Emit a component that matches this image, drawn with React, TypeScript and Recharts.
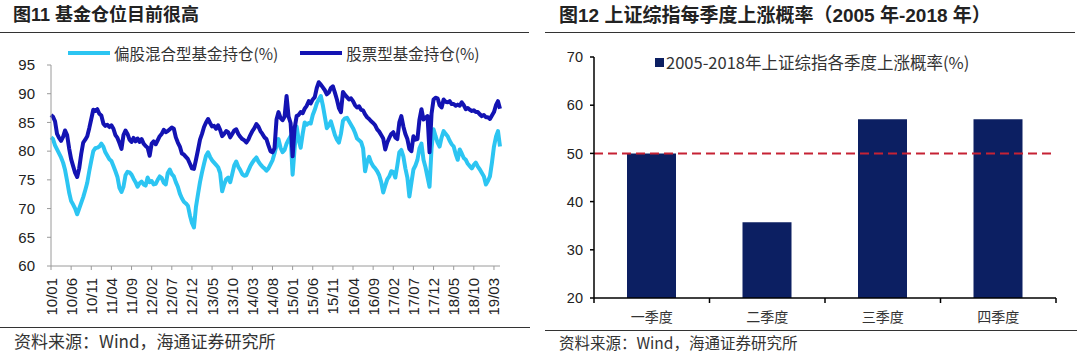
import { LineChart, Line, XAxis, YAxis, Legend, BarChart, Bar, ReferenceLine } from "recharts";

// left chart: fund positions, half-month samples from 2010/01 to 2019/04
const xTickLabels = [
  "10/01", "10/06", "10/11", "11/04", "11/09", "12/02", "12/07", "12/12",
  "13/05", "13/10", "14/03", "14/08", "15/01", "15/06", "15/11", "16/04",
  "16/09", "17/02", "17/07", "17/12", "18/05", "18/10", "19/03",
];
const samplesPerTick = 10; // 5 months between labels, 2 samples a month

const mixedFund = [
  82.4, 82.1, 81.0, 80.3, 79.6, 78.9, 78.0, 76.7, 74.8, 72.8,
  71.3, 70.7, 70.0, 69.0, 70.0, 71.0, 72.0, 73.2, 74.5, 76.5,
  78.3, 80.0, 80.5, 80.6, 80.8, 81.3, 80.8, 79.8, 79.2, 78.6,
  78.3, 77.4, 76.5, 75.5, 73.6, 72.9, 73.8, 75.8, 76.4, 76.3,
  75.9, 75.2, 74.6, 73.8, 74.4, 74.7, 74.2, 74.0, 75.4, 74.6,
  74.8, 74.2, 74.3, 75.0, 75.6, 75.3, 74.5, 74.2, 76.2, 76.8,
  76.0, 75.6, 74.6, 73.8, 72.6, 71.8, 71.2, 70.9, 70.5, 68.8,
  67.5, 66.7, 70.3, 72.5, 74.6, 76.3, 77.8, 79.2, 79.8, 79.0,
  78.4, 78.0, 77.6, 77.2, 76.2, 73.0, 74.2, 75.1, 75.4, 74.6,
  76.0, 77.5, 78.2, 77.3, 76.7, 76.0, 75.7, 75.8, 76.6, 77.4,
  78.0, 78.5, 78.9, 78.2, 77.7, 77.3, 77.0, 76.6, 77.0, 77.7,
  78.4, 79.6, 81.0, 82.1, 80.6, 79.8, 80.2, 81.3, 82.0, 82.6,
  75.9, 80.5, 84.3, 82.0, 80.6, 83.0, 85.0, 84.6, 84.9, 84.8,
  86.3, 87.2, 88.3, 89.0, 89.6, 88.0, 86.0, 84.0, 84.5, 85.2,
  84.0, 82.8, 82.0, 81.5, 83.0, 85.3, 85.7, 85.8, 85.2, 84.6,
  84.0, 83.2, 82.2, 81.9, 81.6, 80.5, 76.5, 78.2, 79.0, 78.0,
  77.4, 77.0, 76.5, 75.8, 74.6, 72.8, 74.0, 75.1, 75.6, 76.5,
  76.4, 75.4, 77.5, 79.8, 80.2, 79.1, 77.0, 75.4, 72.1, 74.5,
  76.8, 77.5, 78.5, 80.5, 81.3, 78.5, 77.2, 75.5, 73.8, 80.5,
  83.8, 82.6, 81.5, 80.8, 82.4, 83.5, 83.0, 82.6, 81.8, 81.2,
  80.8, 79.5, 78.5, 80.3, 79.6, 78.8, 78.5, 77.8, 77.4, 77.0,
  77.6, 78.0, 77.3, 76.8, 76.2, 75.6, 74.2, 74.8, 75.6, 78.0,
  80.8, 82.5, 83.5, 80.8,
];

const stockFund = [
  86.3, 86.0, 85.2, 83.0, 82.3, 81.8, 82.5, 83.6, 82.8, 80.5,
  78.6, 77.4, 76.2, 75.5, 77.0, 79.5, 81.5, 82.0, 82.6, 84.0,
  85.6, 87.2, 87.0, 87.3, 86.5, 86.2, 84.8, 84.4, 84.6, 84.2,
  84.5, 83.9, 82.8, 82.3, 81.4, 80.4, 82.8, 83.6, 83.0, 82.0,
  81.6, 82.3, 81.7, 82.2, 81.6, 82.1, 81.3, 80.9, 80.6, 79.2,
  81.3, 81.7, 81.2, 81.9, 82.6, 83.0, 83.7, 83.3, 83.5, 83.8,
  84.1, 83.9, 82.4, 81.5, 80.8, 79.6, 79.4, 79.0, 78.6, 77.8,
  77.0, 76.9, 78.5, 80.2, 82.0, 83.0, 84.2, 85.0, 85.6, 84.9,
  84.3, 84.4, 83.9, 84.5, 83.7, 82.6, 83.0, 83.5, 83.3, 82.4,
  83.0, 83.6, 83.8, 83.0, 82.5, 82.1, 81.9, 81.5, 82.0, 82.8,
  83.5, 84.0, 84.7, 84.3, 83.5, 83.0, 82.4, 82.1, 81.0, 80.0,
  79.8, 80.5, 85.5, 86.8, 85.8, 85.4, 86.0, 89.6, 86.0, 84.9,
  79.1, 84.0, 86.1, 86.3, 86.8, 86.6, 87.4, 87.9, 88.7, 88.3,
  89.0, 89.4, 91.0, 92.0, 91.6, 91.1, 90.6, 89.9, 90.2, 91.0,
  91.3, 90.2, 89.0, 87.5, 86.8, 90.3, 89.8, 89.4, 89.0, 89.2,
  88.7, 88.0, 87.6, 87.8, 87.2, 87.1, 86.4, 85.9, 85.6, 85.2,
  84.9, 84.5, 83.8, 83.4, 82.8, 82.2, 80.3, 81.5, 82.3, 83.0,
  83.3, 82.4, 82.1, 85.0, 86.1, 84.3, 83.0, 82.1, 80.4, 80.0,
  82.6, 82.0, 82.1, 85.5, 87.3, 85.5, 85.8, 86.1, 79.8, 86.5,
  89.0, 89.3, 89.2, 88.0, 87.6, 89.0, 88.6, 88.5, 88.7, 88.2,
  88.2, 87.9, 88.1, 87.9, 88.5, 88.0, 87.3, 87.5, 87.2, 87.0,
  87.1, 86.8, 86.8, 86.4, 86.1, 86.3, 85.9, 85.9, 85.6, 86.2,
  86.8, 88.0, 88.7, 87.4,
];
const leftYTicks = [60, 65, 70, 75, 80, 85, 90, 95];

// right chart: quarterly rise probability
const quarters = ["一季度", "二季度", "三季度", "四季度"];
const riseProb = [50, 35.7, 57.1, 57.1];
const rightYTicks = [20, 30, 40, 50, 60, 70];

const lineData = mixedFund.map((v, i) => ({ i, mixed: v, stock: stockFund[i] }));
const barData = quarters.map((q, k) => ({ q, p: riseProb[k] }));

const SANS = '"Liberation Sans", Arial, "Noto Sans CJK SC", sans-serif';
const CJK = '"Noto Sans CJK SC", "Liberation Sans", sans-serif';

function RotTick(props: any) {
  const { x, y, payload } = props;
  const label = xTickLabels[Math.round(payload.value / samplesPerTick)];
  return (
    <text x={x} y={y} transform={`rotate(-90 ${x} ${y})`} textAnchor="end"
      dominantBaseline="central" fontSize={15} fill="#222" fontFamily={SANS}>
      {label}
    </text>
  );
}

function QuarterTick(props: any) {
  const { x, y, payload, index, width, visibleTicksCount } = props;
  const half = payload.offset ?? width / (2 * visibleTicksCount);
  const last = index === visibleTicksCount - 1;
  return (
    <g>
      <line x1={x - half} x2={x - half} y1={y} y2={y + 5} stroke="#000" strokeWidth={1.5} />
      {last && <line x1={x + half} x2={x + half} y1={y} y2={y + 5} stroke="#000" strokeWidth={1.5} />}
      <text x={x} y={y + 24} textAnchor="middle" fontSize={14} fill="#333" fontFamily={CJK}>
        {payload.value}
      </text>
    </g>
  );
}

function LeftLegend(props: any) {
  const items = props.payload || [];
  return (
    <div style={{ display: "flex", alignItems: "center", fontFamily: CJK, fontSize: 15.5, color: "#333", whiteSpace: "nowrap", lineHeight: "18px" }}>
      {items.map((it: any, k: number) => (
        <div key={k} style={{ display: "flex", alignItems: "center", marginLeft: k ? 22 : 0 }}>
          <span style={{ display: "inline-block", width: 42, height: 4, background: it.color, marginRight: 4 }} />
          <span>{it.value}</span>
        </div>
      ))}
    </div>
  );
}

function RightLegend(props: any) {
  const items = props.payload || [];
  return (
    <div style={{ display: "flex", alignItems: "center", fontFamily: CJK, fontSize: 16.5, color: "#333", whiteSpace: "nowrap", lineHeight: "18px" }}>
      {items.map((it: any, k: number) => (
        <div key={k} style={{ display: "flex", alignItems: "center" }}>
          <span style={{ display: "inline-block", width: 9, height: 9, background: it.color, marginRight: 2 }} />
          <span>{it.value}</span>
        </div>
      ))}
    </div>
  );
}

const abs = (s: any) => ({ position: "absolute" as const, ...s });

export default function App() {
  return (
    <div style={abs({ left: 0, top: 0, width: 1080, height: 354, background: "#fff", overflow: "hidden", fontFamily: SANS })}>
      <div style={abs({ left: 13, top: 5, fontSize: 18, fontWeight: 700, lineHeight: "20px", fontFamily: SANS, color: "#222", whiteSpace: "nowrap" })}>
        图11 基金仓位目前很高
      </div>
      <div style={abs({ left: 0, top: 32, width: 529, height: 1, background: "#333" })} />
      <div style={abs({ left: 0, top: 0 })}>
        <LineChart width={540} height={354} data={lineData} margin={{ top: 65, right: 40, bottom: 28, left: 0 }}>
          <XAxis dataKey="i" type="number" domain={[0, lineData.length - 1]}
            ticks={xTickLabels.map((_, k) => k * samplesPerTick)} interval={0}
            height={60} tickSize={4} tickMargin={8} stroke="#9a9a9a" tick={(p: any) => <RotTick {...p} />} />
          <YAxis domain={[60, 95]} ticks={leftYTicks} interval={0} width={51} tickSize={4} tickMargin={12}
            stroke="#9a9a9a" tick={{ fontSize: 15, fill: "#222", fontFamily: SANS }} />
          <Legend layout="horizontal" verticalAlign="middle" align="center"
            wrapperStyle={{ top: 44, left: 68, width: "auto" }} content={(p: any) => <LeftLegend {...p} />} />
          <Line dataKey="mixed" name="偏股混合型基金持仓(%)" stroke="#2CC5F2" strokeWidth={4}
            strokeLinejoin="round" dot={false} isAnimationActive={false} />
          <Line dataKey="stock" name="股票型基金持仓(%)" stroke="#1313B3" strokeWidth={4}
            strokeLinejoin="round" dot={false} isAnimationActive={false} />
        </LineChart>
      </div>
      <div style={abs({ left: 0, top: 327, width: 530, height: 1, background: "#333" })} />
      <div style={abs({ left: 14, top: 332, fontSize: 17, lineHeight: "18px", color: "#333", fontFamily: CJK, whiteSpace: "nowrap" })}>
        资料来源：Wind，海通证券研究所
      </div>

      <div style={abs({ left: 559, top: 6, fontSize: 19, fontWeight: 700, lineHeight: "20px", fontFamily: SANS, color: "#222", whiteSpace: "nowrap" })}>
        图12 上证综指每季度上涨概率（2005 年-2018 年）
      </div>
      <div style={abs({ left: 545, top: 32, width: 530, height: 1, background: "#333" })} />
      <div style={abs({ left: 540, top: 0 })}>
        <BarChart width={540} height={354} data={barData} margin={{ top: 57, right: 24, bottom: 26, left: 0 }}>
          <XAxis dataKey="q" height={30} tickSize={0} tickMargin={0} tickLine={false} interval={0}
            stroke="#000" strokeWidth={1.5} tick={(p: any) => <QuarterTick {...p} />} />
          <YAxis domain={[20, 70]} ticks={rightYTicks} interval={0} width={54} tickSize={4} tickMargin={7}
            stroke="#000" strokeWidth={1.5} tick={{ fontSize: 14.5, fill: "#222", fontFamily: SANS }} />
          <Legend layout="horizontal" verticalAlign="middle" align="center"
            wrapperStyle={{ top: 53, left: 115, width: "auto" }} content={(p: any) => <RightLegend {...p} />} />
          <Bar dataKey="p" name="2005-2018年上证综指各季度上涨概率(%)" fill="#0C1F62" barSize={49} isAnimationActive={false} />
          <ReferenceLine y={50} stroke="#C62234" strokeWidth={2} strokeDasharray="9 5" />
        </BarChart>
      </div>
      <div style={abs({ left: 545, top: 330, width: 532, height: 1, background: "#333" })} />
      <div style={abs({ left: 559, top: 333, fontSize: 15.5, lineHeight: "18px", color: "#333", fontFamily: CJK, whiteSpace: "nowrap" })}>
        资料来源：Wind，海通证券研究所
      </div>
    </div>
  );
}
